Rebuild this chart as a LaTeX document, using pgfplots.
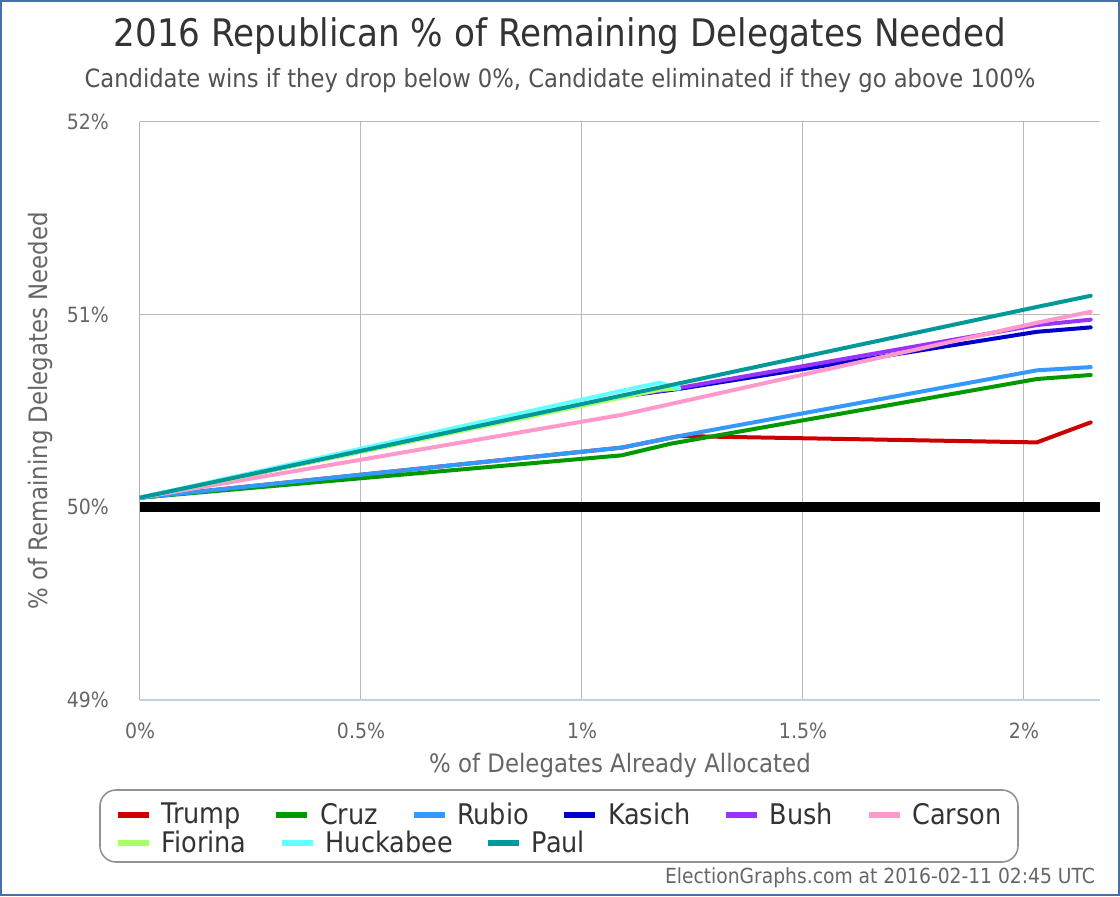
\documentclass[border=0pt]{standalone}
\usepackage{pgfplots}
\pgfplotsset{compat=1.18}
\usepackage{fontspec}
\setmainfont{DejaVu Sans Condensed}
\definecolor{ctrump}{HTML}{CC0000}
\definecolor{ccruz}{HTML}{009900}
\definecolor{crubio}{HTML}{3399FF}
\definecolor{ckasich}{HTML}{0000CC}
\definecolor{cbush}{HTML}{9933FF}
\definecolor{ccarson}{HTML}{FF99CC}
\definecolor{cfiorina}{HTML}{AAFF66}
\definecolor{chuck}{HTML}{66FFFF}
\definecolor{cpaul}{HTML}{009999}
\definecolor{frame}{HTML}{4572A7}
\definecolor{txt}{HTML}{333333}
\definecolor{lab}{HTML}{666666}
\definecolor{xaxis}{HTML}{C0D0E0}
\pgfplotsset{
  common/.style={
    at={(70pt,98pt)}, anchor=south west,
    scale only axis, width=480pt, height=289pt,
    xmin=0, xmax=2.172, ymin=49, ymax=52,
    legend columns=-1,
    legend style={draw=none, fill=none,
      font=\fontsize{14.2}{16}\selectfont, text=txt,
      inner xsep=0pt, inner ysep=0pt,
      nodes={inner xsep=5pt},
      /tikz/every even column/.append style={column sep=11.5pt}},
    legend image code/.code={\draw[##1, line width=2.6pt, line cap=butt] (0pt,0pt) -- (15.5pt,0pt);},
    every axis plot/.append style={line width=2pt, line join=round, line cap=round},
  }
}
\begin{document}
\begin{tikzpicture}
\draw[frame, line width=1pt] (0.5pt,0.5pt) rectangle (559.5pt,447.5pt);
\node[txt, font=\fontsize{19}{22}\selectfont] at (280pt,430pt) {2016 Republican \% of Remaining Delegates Needed};
\node[lab!80!black, font=\fontsize{12.6}{14}\selectfont] at (280pt,407.5pt) {Candidate wins if they drop below 0\%, Candidate eliminated if they go above 100\%};
\node[lab, anchor=east, font=\fontsize{10.4}{12}\selectfont] at (551pt,9pt) {ElectionGraphs.com at 2016-02-11 02:45 UTC};
\draw[gray!85, line width=0.8pt, rounded corners=8pt] (50pt,17pt) rectangle (509pt,53pt);
\begin{axis}[
  common,
  axis x line=bottom, axis y line=left,
  x axis line style={-, draw=xaxis, line width=1pt},
  y axis line style={-, draw=gray!60, line width=0.5pt},
  grid=major, grid style={gray!55, line width=0.5pt},
  xtick={0,0.5,1,1.5,2}, ytick={49,50,51,52},
  xticklabels={0\%,0.5\%,1\%,1.5\%,2\%},
  yticklabels={49\%,50\%,51\%,52\%},
  major tick length=0pt,
  ticklabel style={lab, font=\fontsize{10.5}{12}\selectfont},
  xticklabel style={yshift=-8pt},
  yticklabel style={xshift=-12pt},
  xlabel={\% of Delegates Already Allocated},
  ylabel={\% of Remaining Delegates Needed},
  label style={lab, font=\fontsize{12.7}{14}\selectfont},
  xlabel style={at={(axis description cs:0.5,-0.114)}, anchor=center},
  ylabel style={at={(axis description cs:-0.104,0.5)}, anchor=center, rotate=0},
  legend style={at={(axis description cs:-0.026,-0.199)}, anchor=west},
]
\addplot[black, line width=5pt, line cap=butt, forget plot] coordinates {(0,50) (2.172,50)};
\addplot[ctrump] coordinates {(0,50.05) (1.09,50.31) (1.22,50.37) (2.029,50.337) (2.151,50.441)};
\addlegendentry{Trump}
\addplot[ccruz] coordinates {(0,50.05) (1.09,50.27) (1.20,50.33) (2.029,50.666) (2.151,50.687)};
\addlegendentry{Cruz}
\addplot[crubio] coordinates {(0,50.05) (1.09,50.31) (1.22,50.37) (2.029,50.711) (2.151,50.728)};
\addlegendentry{Rubio}
\addplot[ckasich] coordinates {(0,50.05) (1.09,50.575) (1.22,50.615) (2.029,50.911) (2.151,50.934)};
\addlegendentry{Kasich}
\addplot[cbush] coordinates {(0,50.05) (1.09,50.575) (1.22,50.62) (2.029,50.946) (2.151,50.974)};
\addlegendentry{Bush}
\addplot[ccarson] coordinates {(0,50.05) (1.09,50.48) (2.029,50.958) (2.151,51.015)};
\addlegendentry{Carson}
\end{axis}
\begin{axis}[
  common, hide axis,
  legend style={at={(axis description cs:-0.026,-0.2474)}, anchor=west},
]
\addplot[cfiorina] coordinates {(0,50.05) (1.09,50.57) (1.176,50.61) (1.22,50.617)};
\addlegendentry{Fiorina}
\addplot[chuck] coordinates {(0,50.05) (1.09,50.605) (1.176,50.647) (1.22,50.617)};
\addlegendentry{Huckabee}
\addplot[cpaul] coordinates {(0,50.05) (1.09,50.58) (2.029,51.04) (2.151,51.098)};
\addlegendentry{Paul}
\end{axis}
\end{tikzpicture}
\end{document}
